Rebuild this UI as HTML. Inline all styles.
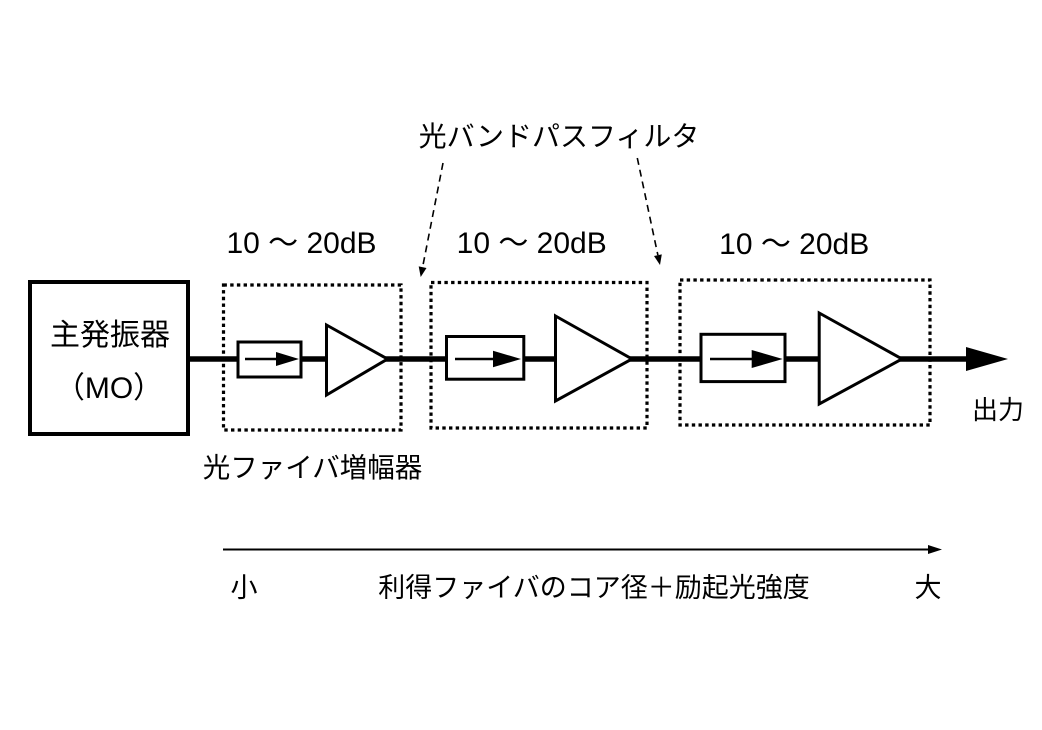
<!DOCTYPE html>
<html>
<head>
<meta charset="utf-8">
<style>
html,body{margin:0;padding:0;background:#fff;}
svg{display:block;}
text{font-family:"Liberation Sans","Noto Sans CJK JP",sans-serif;fill:#000;}
</style>
</head>
<body>
<svg width="1042" height="730" viewBox="0 0 1042 730" xmlns="http://www.w3.org/2000/svg">
  <rect x="0" y="0" width="1042" height="730" fill="#fff"/>

  <!-- main line -->
  <line x1="188" y1="359" x2="968" y2="359" stroke="#000" stroke-width="5.5"/>
  <polygon points="966,347 1008,359 966,371" fill="#000"/>

  <!-- MO box -->
  <rect x="30" y="282" width="158" height="152" fill="#fff" stroke="#000" stroke-width="4"/>
  <text x="110" y="345" font-size="30" text-anchor="middle">主発振器</text>
  <text x="109" y="398" font-size="30" text-anchor="middle">（MO）</text>

  <!-- dotted boxes -->
  <g fill="none" stroke="#000" stroke-width="3.2" stroke-dasharray="3.4 3.3">
    <rect x="223.5" y="285" width="177.5" height="145"/>
    <rect x="431" y="282.5" width="216" height="145.5"/>
    <rect x="680" y="280" width="250" height="145"/>
  </g>

  <!-- isolators -->
  <g stroke="#000" stroke-width="3" fill="#fff">
    <rect x="238" y="342" width="63" height="35"/>
    <rect x="446.5" y="336.5" width="77.3" height="42.7"/>
    <rect x="701" y="334.3" width="84" height="47.3"/>
  </g>
  <g stroke="#000" stroke-width="2.6">
    <line x1="245" y1="359" x2="278" y2="359"/>
    <line x1="455" y1="359" x2="495" y2="359"/>
    <line x1="710" y1="359" x2="753" y2="359"/>
  </g>
  <g fill="#000">
    <polygon points="276,352 299,359 276,366"/>
    <polygon points="493,350.7 521,359 493,367.3"/>
    <polygon points="751.7,350 782.7,359 751.7,368"/>
  </g>

  <!-- amplifiers -->
  <g stroke="#000" stroke-width="3" fill="#fff" stroke-linejoin="miter">
    <polygon points="326.5,325 387.5,359 326.5,395"/>
    <polygon points="555.5,316 632,359 555.5,401"/>
    <polygon points="819.2,313 902,359 819.2,404"/>
  </g>

  <!-- gain labels -->
  <text x="301.5" y="253" font-size="30" text-anchor="middle">10 〜 20dB</text>
  <text x="531.7" y="253" font-size="30" text-anchor="middle">10 〜 20dB</text>
  <text x="794.2" y="254" font-size="30" text-anchor="middle">10 〜 20dB</text>

  <!-- band pass filter label and leaders -->
  <text x="559" y="146" font-size="28" text-anchor="middle">光バンドパスフィルタ</text>
  <g stroke="#000" stroke-width="1.6" stroke-dasharray="7 5" fill="none">
    <line x1="443" y1="163" x2="422.6" y2="267.2"/>
    <line x1="637.3" y1="158" x2="657.9" y2="255.2"/>
  </g>
  <polygon points="426.5,268 418.7,266.4 420.7,277" fill="#000"/>
  <polygon points="661.8,254.4 654,256 660,265" fill="#000"/>

  <!-- labels -->
  <text x="312.5" y="477" font-size="27.5" text-anchor="middle">光ファイバ増幅器</text>
  <text x="998" y="419" font-size="26" text-anchor="middle">出力</text>

  <!-- bottom axis -->
  <line x1="223" y1="549.5" x2="932" y2="549.5" stroke="#000" stroke-width="2"/>
  <polygon points="928,545 942,549.5 928,554" fill="#000"/>
  <text x="244" y="597" font-size="27" text-anchor="middle">小</text>
  <text x="594" y="597" font-size="27" text-anchor="middle">利得ファイバのコア径＋励起光強度</text>
  <text x="928" y="597" font-size="27" text-anchor="middle">大</text>
</svg>
</body>
</html>
